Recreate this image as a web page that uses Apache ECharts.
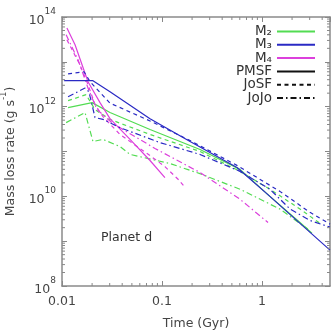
<!DOCTYPE html>
<html><head><meta charset="utf-8">
<script src="https://cdn.jsdelivr.net/npm/echarts@6/dist/echarts.min.js"></script>
<style>html,body{margin:0;padding:0;background:#fff}#c{width:331px;height:331px}</style>
</head><body><div id="c"></div>
<script>
// ---- data: [time (Gyr), mass loss rate (g/s)] ----
const m2_PMSF = [[0.0115,9.5e11],[0.020,1.23e12],[0.0302,7.4e11],[0.0759,3.1e11],[0.24,1.11e11],[0.603,4.0e10],[1.2,1.0e10],[2.4,2.6e9],[3.16,1.5e9]];
const m2_JoSF = [[0.0115,1.36e12],[0.0174,1.85e12],[0.0214,8.6e11],[0.0302,5.2e11],[0.0759,2.4e11],[0.24,1.0e11],[0.603,3.6e10],[1.2,1.44e10],[2.4,5.2e9],[3.8,2.5e9]];
const m2_JoJo = [[0.011,4.4e11],[0.017,7.4e11],[0.0204,1.67e11],[0.0257,1.86e11],[0.038,1.29e11],[0.0479,8.6e10],[0.12,5.4e10],[0.24,3.2e10],[0.603,1.44e10],[1.51,5.2e9],[2.88,1.86e9]];
const m3_PMSF = [[0.0105,3.8e12],[0.0204,3.8e12],[0.0302,2.15e12],[0.0759,5.4e11],[0.191,1.67e11],[0.562,4.4e10],[1.2,1.0e10],[2.4,2.5e9],[4.79,6.3e8]];
const m3_JoSF = [[0.0115,5.4e12],[0.0166,6.0e12],[0.0191,3.6e12],[0.0302,1.2e12],[0.0759,4.8e11],[0.191,1.75e11],[0.562,4.9e10],[1.51,1.29e10],[3.02,4.4e9],[4.79,2.4e9]];
const m3_JoJo = [[0.0115,1.67e12],[0.017,2.6e12],[0.0186,2.15e12],[0.0214,5.7e11],[0.0257,5.2e11],[0.038,3.4e11],[0.0955,1.58e11],[0.24,8.6e10],[0.603,3.6e10],[1.2,1.44e10],[1.91,5.2e9],[3.02,2.9e9],[4.79,2.05e9]];
const m4_PMSF = [[0.0112,5.7e13],[0.0135,2.4e13],[0.0182,3.6e12],[0.024,1.23e12],[0.0302,5.4e11],[0.0479,1.86e11],[0.0759,6.3e10],[0.107,2.6e10]];
const m4_JoSF = [[0.0112,3.1e13],[0.0151,8.6e12],[0.0182,3.1e12],[0.0214,1.11e12],[0.0257,6.0e11],[0.038,2.4e11],[0.0759,8.1e10],[0.107,4.6e10],[0.145,2.4e10],[0.17,1.58e10]];
const m4_JoJo = [[0.011,4.0e13],[0.0145,1.1e13],[0.0182,2.6e12],[0.0224,8.6e11],[0.0324,4.2e11],[0.0851,1.17e11],[0.24,3.4e10],[0.603,8.6e9],[1.15,2.6e9]];

// ---- ticks ----
const xTickValues = [0.01, 0.1, 1];
const xTickLabels = ['0.01', '0.1', '1'];
const yTickValues = [1e8, 1e10, 1e12, 1e14];
const yTickExps = ['8', '10', '12', '14'];
const xDecades = [0.01, 0.1, 1];
const yDecades = [1e8, 1e9, 1e10, 1e11, 1e12, 1e13];
const minorMults = [2, 3, 4, 5, 6, 7, 8, 9];
const X_MAX = 4.79, Y_MIN = 1e8, Y_MAX = 1e14;

const GREEN = '#52dc52', BLUE = '#2a2ac4', MAGENTA = '#dc40dc';
const DASH = [4, 3.5], DASHDOT = [6, 3, 1.5, 3];
const FONT = 'DejaVu Sans';
const TXT = '#444';

const xMinor = [], yMinor = [];
xDecades.forEach(d => minorMults.forEach(m => { const v = d * m; if (v < X_MAX) xMinor.push([v, 1e9]); }));
yDecades.forEach(d => minorMults.forEach(m => yMinor.push([0.02, d * m])));

function near(a, b) { return Math.abs(Math.log10(a) - Math.log10(b)) < 1e-6; }

function lineSeries(name, data, color, dash) {
  return { type: 'line', name: name, data: data, symbol: 'none', smooth: false,
    lineStyle: { color: color, width: 1.2, type: dash || 'solid' }, itemStyle: { color: color },
    xAxisIndex: 0, yAxisIndex: 0, z: 3, silent: true };
}
function legendSeries(name, color, dash) {
  return { type: 'line', name: name, data: [], symbol: 'none',
    lineStyle: { color: color, width: 1.2, type: dash || 'solid' }, itemStyle: { color: color } };
}

const TICK = '#888';
function xMinorRender(params, api) {
  const cs = params.coordSys;
  const x = api.coord([api.value(0), api.value(1)])[0];
  const b = cs.y + cs.height, t = cs.y;
  return { type: 'group', children: [
    { type: 'line', shape: { x1: x, y1: b, x2: x, y2: b - 3 }, style: { stroke: TICK, lineWidth: 1 } },
    { type: 'line', shape: { x1: x, y1: t, x2: x, y2: t + 3 }, style: { stroke: TICK, lineWidth: 1 } }
  ] };
}
function yMinorRender(params, api) {
  const cs = params.coordSys;
  const y = api.coord([api.value(0), api.value(1)])[1];
  const l = cs.x, r = cs.x + cs.width;
  return { type: 'group', children: [
    { type: 'line', shape: { x1: l, y1: y, x2: l + 3, y2: y }, style: { stroke: TICK, lineWidth: 1 } },
    { type: 'line', shape: { x1: r, y1: y, x2: r - 3, y2: y }, style: { stroke: TICK, lineWidth: 1 } }
  ] };
}

const axisLineStyle = { color: '#8a8a8a', width: 1.5 };
const chart = echarts.init(document.getElementById('c'), null, { renderer: 'canvas' });
chart.setOption({
  animation: false,
  backgroundColor: '#fff',
  textStyle: { fontFamily: FONT },
  grid: { left: 62, right: 1, top: 17, bottom: 45, containLabel: false, outerBoundsMode: 'none' },
  xAxis: [
    { type: 'log', min: 0.01, max: X_MAX, position: 'bottom',
      axisLine: { lineStyle: axisLineStyle },
      axisTick: { inside: true, length: 5, lineStyle: { color: TICK } },
      splitLine: { show: false }, minorTick: { show: false },
      axisLabel: { color: TXT, fontSize: 12.5, fontFamily: FONT, margin: 9, showMaxLabel: false,
        formatter: v => { const i = xTickValues.findIndex(t => near(t, v)); return i >= 0 ? xTickLabels[i] : ''; } },
      name: 'Time (Gyr)', nameLocation: 'middle', nameGap: 31,
      nameTextStyle: { color: TXT, fontSize: 12.5, fontFamily: FONT } },
    { type: 'log', min: 0.01, max: X_MAX, position: 'top',
      axisLine: { lineStyle: axisLineStyle },
      axisTick: { inside: true, length: 5, lineStyle: { color: TICK } },
      splitLine: { show: false }, axisLabel: { show: false } }
  ],
  yAxis: [
    { type: 'log', min: Y_MIN, max: Y_MAX, position: 'left',
      axisLine: { lineStyle: axisLineStyle },
      axisTick: { inside: true, length: 5, lineStyle: { color: TICK } },
      splitLine: { show: false },
      axisLabel: { margin: 6,
        formatter: v => { const i = yTickValues.findIndex(t => near(t, v)); return i >= 0 ? '{b|10}{s|' + yTickExps[i] + '}' : ''; },
        rich: { b: { fontSize: 12.5, color: TXT, fontFamily: FONT, lineHeight: 20, verticalAlign: 'bottom' },
                s: { fontSize: 9, color: TXT, fontFamily: FONT, verticalAlign: 'top' } } },
      name: '{n|Mass loss rate (g s}{s|-1}{n|)}', nameLocation: 'middle', nameGap: 30,
      nameTextStyle: { color: TXT, fontFamily: FONT,
        rich: { n: { fontSize: 12.5, color: TXT, fontFamily: FONT, lineHeight: 18, verticalAlign: 'bottom' },
                s: { fontSize: 8.5, color: TXT, fontFamily: FONT, verticalAlign: 'top' } } } },
    { type: 'log', min: Y_MIN, max: Y_MAX, position: 'right',
      axisLine: { lineStyle: axisLineStyle },
      axisTick: { inside: true, length: 5, lineStyle: { color: TICK } },
      splitLine: { show: false }, axisLabel: { show: false } }
  ],
  legend: {
    orient: 'vertical', right: 15, top: 24.5, align: 'right', padding: 0, itemGap: -0.7,
    itemWidth: 38, itemHeight: 10, selectedMode: false,
    itemStyle: { opacity: 0, borderWidth: 0 },
    data: ['M₂', 'M₃', 'M₄', 'PMSF', 'JoSF', 'JoJo'],
    textStyle: { color: '#333', fontSize: 13.5, fontFamily: FONT }
  },
  graphic: [
    { type: 'text', left: 101, top: 231, style: { text: 'Planet d', fill: '#333', font: '12.5px "DejaVu Sans"' } }
  ],
  series: [
    lineSeries('M2 PMSF', m2_PMSF, GREEN),
    lineSeries('M2 JoSF', m2_JoSF, GREEN, DASH),
    lineSeries('M2 JoJo', m2_JoJo, GREEN, DASHDOT),
    lineSeries('M4 PMSF', m4_PMSF, MAGENTA),
    lineSeries('M4 JoSF', m4_JoSF, MAGENTA, DASH),
    lineSeries('M4 JoJo', m4_JoJo, MAGENTA, DASHDOT),
    lineSeries('M3 PMSF', m3_PMSF, BLUE),
    lineSeries('M3 JoSF', m3_JoSF, BLUE, DASH),
    lineSeries('M3 JoJo', m3_JoJo, BLUE, DASHDOT),
    legendSeries('M₂', GREEN), legendSeries('M₃', BLUE), legendSeries('M₄', MAGENTA),
    legendSeries('PMSF', '#111'), legendSeries('JoSF', '#111', DASH), legendSeries('JoJo', '#111', DASHDOT),
    { type: 'custom', name: 'xminor', data: xMinor, renderItem: xMinorRender, encode: { x: 0, y: 1 }, silent: true, z: 5, clip: false },
    { type: 'custom', name: 'yminor', data: yMinor, renderItem: yMinorRender, encode: { x: 0, y: 1 }, silent: true, z: 5, clip: false }
  ]
});
</script>
</body></html>
